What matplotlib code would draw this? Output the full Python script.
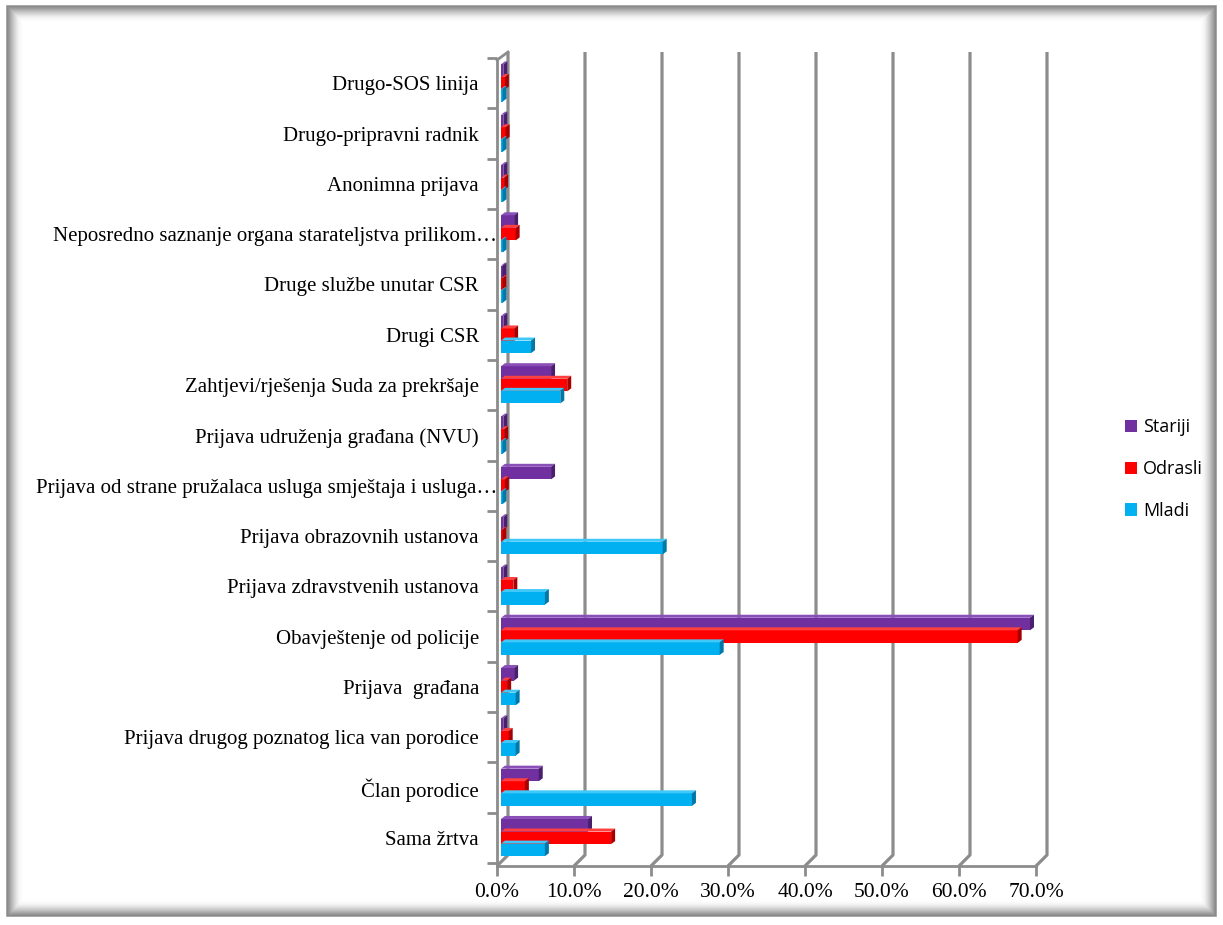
import numpy as np
import matplotlib.pyplot as plt
import matplotlib.transforms as mtransforms
from matplotlib.patches import Polygon, Rectangle

# categories, bottom to top
categories = ['Sama žrtva', 'Član porodice', 'Prijava drugog poznatog lica van porodice',
              'Prijava  građana', 'Obavještenje od policije', 'Prijava zdravstvenih ustanova',
              'Prijava obrazovnih ustanova',
              'Prijava od strane pružalaca usluga smještaja i usluga…',
              'Prijava udruženja građana (NVU)', 'Zahtjevi/rješenja Suda za prekršaje',
              'Drugi CSR', 'Druge službe unutar CSR',
              'Neposredno saznanje organa starateljstva prilikom…',
              'Anonimna prijava', 'Drugo-pripravni radnik', 'Drugo-SOS linija']

# percent values per series
stariji = [11.3, 4.9, 0.3, 1.7, 68.7, 0.3, 0.3, 6.5, 0.3, 6.5, 0.3, 0.2, 1.7, 0.3, 0.3, 0.3]
odrasli = [14.3, 3.1, 1.0, 0.8, 67.1, 1.6, 0.2, 0.5, 0.4, 8.6, 1.7, 0.2, 1.9, 0.4, 0.6, 0.5]
mladi = [5.7, 24.8, 1.9, 1.9, 28.4, 5.7, 21.0, 0.2, 0.2, 7.7, 3.9, 0.2, 0.2, 0.2, 0.2, 0.2]

xticks = [0, 10, 20, 30, 40, 50, 60, 70]

series = [('Stariji', stariji, '#7030A0', '#4A1F6E', '#8A50B8', 0.25),
          ('Odrasli', odrasli, '#FF0000', '#A80000', '#FF4040', 0.0),
          ('Mladi', mladi, '#00B0F0', '#0078A8', '#40C8F8', -0.24)]

fig = plt.figure(figsize=(12.23, 9.25), dpi=100)
W, H = 1223, 925
ax = fig.add_axes([497 / W, 1 - 866 / H, (1050 - 497) / W, (866 - 50) / H])

sx = 7.7          # px per percent
sy = 50.3         # px per category
x0 = -4 / sx
ax.set_xlim(x0, (1050 - 501) / sx)
ax.set_ylim(-0.56, 15.66)

dx = 4 / sx
dy = 3 / sy
top = 15.62
floor = -0.56 + 11 / sy
off = 7 / sx

# back wall gridlines
for v in xticks:
    xv = v + off
    ax.plot([xv, xv, xv - off + x0], [top, floor, -0.56], color='#8C8C8C', lw=2.3,
            solid_capstyle='butt', clip_on=False, zorder=1)
ax.plot([x0, off], [top - 0.16, top], color='#8C8C8C', lw=2, clip_on=False, zorder=1)

# bars with a small 3D look
h = 0.25
for name, vals, c, cside, ctop, shift in series:
    ys = np.arange(len(categories)) + shift
    ax.barh(ys, vals, height=h, color=c, edgecolor='none', zorder=3, label=name)
    for y, v in zip(ys, vals):
        yt = y + h / 2
        yb = y - h / 2
        ax.add_patch(Polygon([[0, yt], [dx, yt + dy], [v + dx, yt + dy], [v, yt]],
                             closed=True, color=ctop, lw=0, zorder=3))
        ax.add_patch(Polygon([[v, yb], [v, yt], [v + dx, yt + dy], [v + dx, yb + dy]],
                             closed=True, color=cside, lw=0, zorder=3))

for s in ['top', 'right']:
    ax.spines[s].set_visible(False)
ax.spines['left'].set_position(('data', x0))
ax.spines['left'].set_bounds(-0.56, top - 0.16)
for s in ['left', 'bottom']:
    ax.spines[s].set_color('#8C8C8C')
    ax.spines[s].set_linewidth(2)
ax.spines['bottom'].set_bounds(x0, 70 + x0)

ax.set_xticks([v + x0 for v in xticks])
ax.set_xticklabels([f'{v:.1f}%' for v in xticks], family='Liberation Serif', fontsize=15.5)
ax.tick_params(axis='x', length=7, width=2, color='#8C8C8C', pad=5)

ax.set_yticks(np.arange(len(categories)))
ax.set_yticklabels(categories, family='Liberation Serif', fontsize=15)
ax.set_yticks(np.arange(len(categories) + 1) - 0.5, minor=True)
ax.tick_params(axis='y', which='major', length=0, pad=13)
ax.tick_params(axis='y', which='minor', length=7, width=2, color='#8C8C8C')

# truncated labels run a bit further right, like in Excel
shift = mtransforms.ScaledTranslation(18 / 100, 0, fig.dpi_scale_trans)
for lab in ax.get_yticklabels():
    if lab.get_text().endswith('…'):
        lab.set_transform(lab.get_transform() + shift)

# legend
handles, labels = ax.get_legend_handles_labels()
leg = fig.legend(handles, labels, loc='center left', bbox_to_anchor=(1109 / W, 1 - 469 / H),
                 frameon=False, prop={'family': 'Open Sans', 'size': 13},
                 handlelength=0.65, handleheight=0.65, handletextpad=0.35, labelspacing=1.32)

# frame with a soft inner shadow
for i in range(16):
    a = 0.7 * (1 - i / 16) ** 2
    fig.patches.append(Rectangle(((7 + i) / W, (9 + i) / H), (1209 - 2 * i) / W, (910 - 2 * i) / H,
                                 transform=fig.transFigure, fill=False, edgecolor='#6E6E6E',
                                 lw=1.2, alpha=a))

plt.savefig('out.png', dpi=100)
